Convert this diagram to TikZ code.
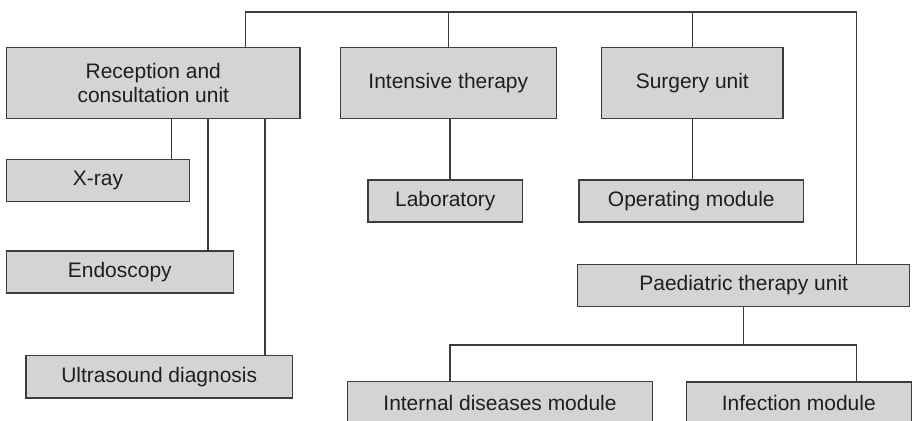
\documentclass[tikz,border=0pt]{standalone}
\usepackage{fontspec}
\setmainfont{Liberation Sans}
\begin{document}
\def\pxl{0.03cm}
\definecolor{boxfill}{HTML}{D4D4D6}
\definecolor{edge}{HTML}{3C3C3C}
\definecolor{ink}{HTML}{1E1E1E}
\begin{tikzpicture}[x=0.03cm, y=-0.03cm,
  unitbox/.style={draw=edge, fill=boxfill, line width=1.1pt, inner sep=0pt,
    text=ink, align=center, font=\fontsize{17.9}{20.8}\selectfont},
  link/.style={draw=edge, line width=1.1pt}]
\useasboundingbox (0,0) rectangle (913,421);
\clip (0,0) rectangle (913,421);
\fill[white] (0,0) rectangle (913,421);

% top-level units
\node[unitbox, minimum width=293.3*\pxl, minimum height=71.4*\pxl] (rec) at (153.3,83) {Reception and\\consultation unit};
\node[unitbox, minimum width=216*\pxl, minimum height=71.4*\pxl] (int) at (448.3,83) {Intensive therapy};
\node[unitbox, minimum width=181.3*\pxl, minimum height=71.4*\pxl] (sur) at (692.3,83) {Surgery unit};

% departments
\node[unitbox, minimum width=182.6*\pxl, minimum height=42.4*\pxl] (xray) at (98,180.5) {X-ray};
\node[unitbox, minimum width=227*\pxl, minimum height=42*\pxl] (endo) at (119.8,272) {Endoscopy};
\node[unitbox, minimum width=266.3*\pxl, minimum height=42.3*\pxl] (ultra) at (159.2,376.8) {Ultrasound diagnosis};
\node[unitbox, minimum width=154.7*\pxl, minimum height=42*\pxl] (lab) at (445.3,201) {Laboratory};
\node[unitbox, minimum width=224.7*\pxl, minimum height=42*\pxl] (op) at (691.3,201) {Operating module};
\node[unitbox, minimum width=332*\pxl, minimum height=42*\pxl] (par) at (743.7,285.3) {Paediatric therapy unit};
\node[unitbox, minimum width=304.6*\pxl, minimum height=42.3*\pxl] (intd) at (500,402.8) {Internal diseases module};
\node[unitbox, minimum width=225*\pxl, minimum height=42*\pxl] (inf) at (798.8,403) {Infection module};

% routing points
\coordinate (t1) at (245.7,12);
\coordinate (t2) at (856.3,12);
\coordinate (c1) at (171.3,0);
\coordinate (c2) at (208,0);
\coordinate (c3) at (265,0);
\coordinate (b1) at (450,345);
\coordinate (b2) at (856.3,345);

% top bus
\draw[link] (rec.north -| t1) -- (t1) -- (t2) -- (t2 |- par.north);
\draw[link] (int.north) -- (int.north |- t1);
\draw[link] (sur.north) -- (sur.north |- t1);

% reception branches
\draw[link] (rec.south -| c1) -- (xray.north -| c1);
\draw[link] (rec.south -| c2) -- (endo.north -| c2);
\draw[link] (rec.south -| c3) -- (ultra.north -| c3);

% unit to module
\draw[link] (int.south -| b1) -- (lab.north -| b1);
\draw[link] (sur.south) -- (sur.south |- op.north);

% paediatric branches
\draw[link] (par.south) -- (par.south |- b1);
\draw[link] (intd.north -| b1) -- (b1) -- (b2) -- (inf.north -| b2);
\end{tikzpicture}
\end{document}
